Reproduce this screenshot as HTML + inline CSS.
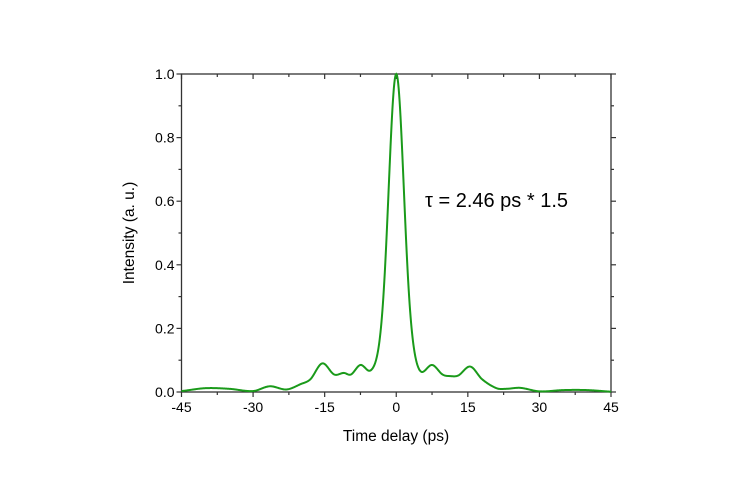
<!DOCTYPE html>
<html><head><meta charset="utf-8"><style>body{margin:0;background:#fff}svg{display:block;font-family:"Liberation Sans",Arial,sans-serif}</style></head>
<body>
<svg id="s" width="750" height="500" viewBox="0 0 750 500">
<rect x="181.5" y="74" width="429.5" height="318" fill="none" stroke="#333" stroke-width="1.3"/>
<g id="ticks" stroke="#333" stroke-width="1.2"></g>
<g font-size="14" fill="#000" id="labels"></g>
<path id="curve" fill="none" stroke="#1a9a1a" stroke-width="2"/>
<text x="425" y="207" font-size="20">τ = 2.46 ps * 1.5</text>
<text x="396" y="441" font-size="15.5" text-anchor="middle">Time delay (ps)</text>
<text transform="translate(134,233) rotate(-90)" font-size="15.5" text-anchor="middle">Intensity (a. u.)</text>
</svg>
<script>
const L=181.5,R=611,T=74,B=392;
const X=t=>396.25+(t)*(R-L)/90, Y=v=>B-v*(B-T);
let tk='',lb='';
for(let i=0;i<=10;i++){let y=Y(i/10);
 if(i%2==0){tk+=`<line x1="${L-5}" y1="${y}" x2="${L}" y2="${y}"/><line x1="${R}" y1="${y}" x2="${R+5}" y2="${y}"/>`;
 lb+=`<text x="${L-7}" y="${y+5}" text-anchor="end">${(i/10).toFixed(1)}</text>`;}
 else tk+=`<line x1="${L-3}" y1="${y}" x2="${L}" y2="${y}"/><line x1="${R}" y1="${y}" x2="${R+3}" y2="${y}"/>`;}
for(let t=-45;t<=45;t+=7.5){let x=X(t),maj=(t%15==0);
 tk+=`<line x1="${x}" y1="${B}" x2="${x}" y2="${B+(maj?5:3)}"/><line x1="${x}" y1="${T}" x2="${x}" y2="${T+(maj?5:3)}"/>`;
 if(maj)lb+=`<text x="${x}" y="${B+20}" text-anchor="middle">${t}</text>`;}
document.getElementById('ticks').innerHTML=tk;document.getElementById('labels').innerHTML=lb;
const cp=[[-47,0.002],[-45,0.003],[-40,0.012],[-35,0.01],[-30,0.003],[-26.5,0.018],[-23,0.008],[-20,0.025],[-18,0.04],[-15.5,0.09],[-13,0.055],[-11,0.06],[-9.5,0.055],[-7.5,0.085],[-5.5,0.065],[-3,0.09],[0,0.1],[3,0.09],[5.2,0.06],[7.5,0.085],[9.7,0.055],[11.3,0.05],[13,0.052],[15.5,0.08],[18,0.04],[21,0.012],[23,0.01],[26,0.013],[30,0.002],[35,0.006],[40,0.006],[45,0.001],[47,0]];
function bg(t){for(let i=1;i<cp.length-2;i++){if(t<=cp[i+1][0]){const p0=cp[i-1],p1=cp[i],p2=cp[i+1],p3=cp[i+2];const u=(t-p1[0])/(p2[0]-p1[0]);
 const m1=(p2[1]-p0[1])/(p2[0]-p0[0])*(p2[0]-p1[0]),m2=(p3[1]-p1[1])/(p3[0]-p1[0])*(p2[0]-p1[0]);
 const h00=2*u**3-3*u*u+1,h10=u**3-2*u*u+u,h01=-2*u**3+3*u*u,h11=u**3-u*u;return h00*p1[1]+h10*m1+h01*p2[1]+h11*m2;}}return 0;}
const sg=3.7/2.355;let d='';
for(let t=-45;t<=45.001;t+=0.1){const g=Math.exp(-t*t/(2*sg*sg));const v=bg(t)*(1-g)+g;d+=(d?'L':'M')+X(t).toFixed(2)+','+Y(v).toFixed(2);}
document.getElementById('curve').setAttribute('d',d);
</script>
</body></html>
